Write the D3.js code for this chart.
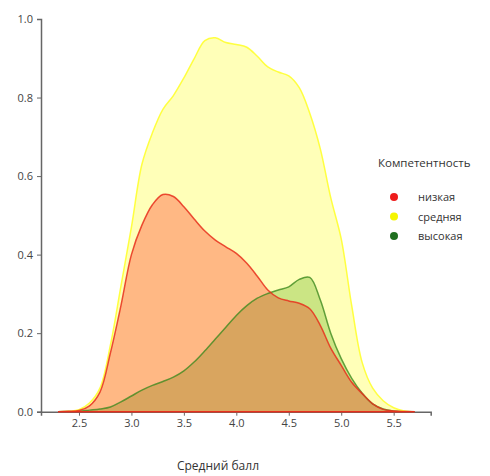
<!DOCTYPE html>
<html><head><meta charset="utf-8">
<script src="https://cdn.jsdelivr.net/npm/d3@7"></script>
<style>body{margin:0;background:#fff}svg{display:block}text{font-family:"Open Sans",sans-serif}</style>
</head><body><svg id="c" width="490" height="476"></svg>
<script>
const categories = ["низкая", "средняя", "высокая"];
const colors = ["#ff0000", "#ffff00", "#008000"];
const xs = [2.3,2.4,2.5,2.6,2.7,2.8,2.9,3.0,3.1,3.2,3.3,3.4,3.5,3.6,3.7,3.8,3.9,4.0,4.1,4.2,4.3,4.4,4.5,4.6,4.7,4.8,4.9,5.0,5.1,5.2,5.3,5.4,5.5,5.6,5.7];
const lowVals =  [0,0.001,0.003,0.015,0.05,0.15,0.27,0.40,0.475,0.527,0.553,0.548,0.522,0.49,0.46,0.437,0.42,0.403,0.378,0.345,0.31,0.29,0.282,0.276,0.262,0.22,0.162,0.118,0.075,0.046,0.02,0.006,0.002,0.0005,0];
const midVals =  [0,0.001,0.005,0.022,0.06,0.17,0.32,0.47,0.63,0.71,0.77,0.805,0.85,0.90,0.945,0.952,0.94,0.935,0.928,0.905,0.878,0.865,0.855,0.825,0.76,0.67,0.545,0.44,0.27,0.125,0.06,0.028,0.01,0.002,0];
const highVals = [0,0.0005,0.001,0.004,0.007,0.012,0.025,0.04,0.055,0.067,0.077,0.088,0.104,0.127,0.155,0.185,0.215,0.245,0.27,0.289,0.301,0.31,0.318,0.337,0.342,0.285,0.2,0.135,0.085,0.047,0.02,0.007,0.002,0.0005,0];
const xTicks = [2.5,3.0,3.5,4.0,4.5,5.0,5.5];
const yTicks = [0.0,0.2,0.4,0.6,0.8,1.0];
const xLabel = "Средний балл";
const legendTitle = "Компетентность";

const svg = d3.select("#c");
const x = d3.scaleLinear().domain([2.138, 5.853]).range([41, 430.7]);
const y = d3.scaleLinear().domain([0, 1]).range([411.7, 19]);

// drawn in reverse hue order (first category on top)
const series = [
  {vals: highVals, color: colors[2], stroke: "#3f8a1f", so: 0.8},
  {vals: midVals, color: colors[1], stroke: "#ffff30", so: 0.9},
  {vals: lowVals, color: colors[0], stroke: "#e8301c", so: 0.85}
];
const curve = d3.curveCatmullRom.alpha(0.5);
const area = d3.area().x((d,i)=>x(xs[i])).y0(y(0)).y1(d=>y(Math.max(0,d))).curve(curve);
const line = d3.line().x((d,i)=>x(xs[i])).y(d=>y(Math.max(0,d))).curve(curve);

series.forEach(s=>{
  svg.append("path").attr("d", area(s.vals)).attr("fill", s.color).attr("fill-opacity", 0.28);
});
series.forEach(s=>{
  svg.append("path").attr("d", line(s.vals)).attr("fill","none").attr("stroke", s.stroke).attr("stroke-opacity", s.so).attr("stroke-width",1.5);
});

// axes
const gx = svg.append("g").attr("transform",`translate(0,${y(0)})`)
  .call(d3.axisBottom(x).tickValues(xTicks).tickFormat(d3.format(".1f")).tickSize(4).tickPadding(4));
const gy = svg.append("g").attr("transform",`translate(${x.range()[0]},0)`)
  .call(d3.axisLeft(y).tickValues(yTicks).tickFormat(d3.format(".1f")).tickSize(4).tickPadding(4));
[gx,gy].forEach(g=>{
  g.select(".domain").attr("stroke","#666").attr("stroke-width",1.5);
  g.selectAll(".tick line").attr("stroke","#666");
  g.selectAll(".tick text").attr("fill","#444").style("font-size","11px").style("font-family","'Open Sans',sans-serif");
});
// red baseline over axis
svg.append("line").attr("x1",x(xs[0])).attr("x2",x(xs[xs.length-1])).attr("y1",y(0)).attr("y2",y(0))
  .attr("stroke","#e8301c").attr("stroke-width",1.5);

svg.append("text").attr("x",218).attr("y",470).attr("text-anchor","middle")
  .style("font-size","12px").attr("fill","#333").text(xLabel);

// legend
svg.append("text").attr("x",378).attr("y",167).style("font-size","11.5px").attr("fill","#333").text(legendTitle);
const legColors = ["#ee1c1c","#f5f500","#1f6f1f"];
categories.forEach((c,i)=>{
  const cy = 197 + i*19.5;
  svg.append("circle").attr("cx",394).attr("cy",cy).attr("r",4).attr("fill",legColors[i]);
  svg.append("text").attr("x",418).attr("y",cy+4).style("font-size","11px").attr("fill","#333").text(c);
});
</script></body></html>
